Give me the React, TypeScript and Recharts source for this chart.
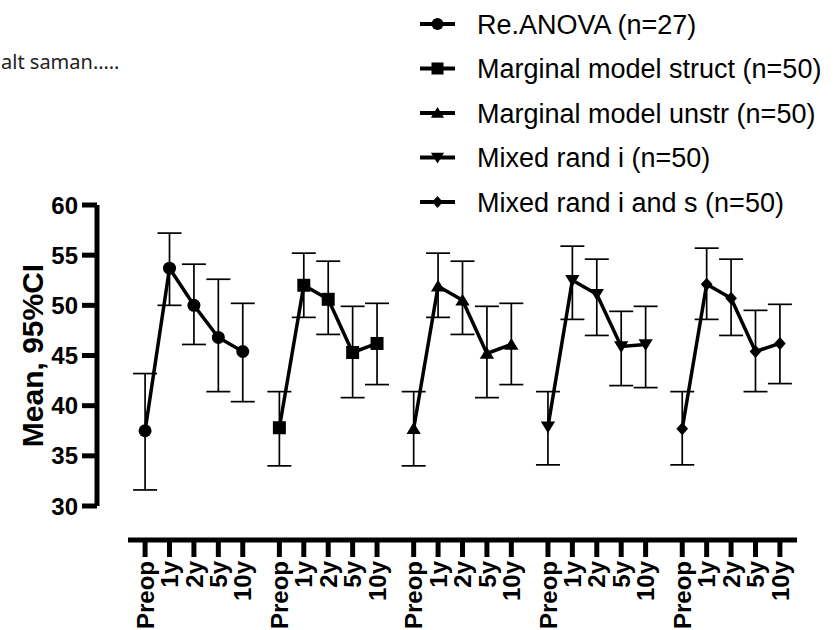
import React from "react";
import { ComposedChart, Line, XAxis, YAxis, ErrorBar, Label } from "recharts";

const FONT = "'Liberation Sans', Arial, sans-serif";

const timepoints = ["Preop", "1y", "2y", "5y", "10y"];
const seriesNames = [
  "Re.ANOVA (n=27)",
  "Marginal model struct (n=50)",
  "Marginal model unstr (n=50)",
  "Mixed rand i (n=50)",
  "Mixed rand i and s (n=50)",
];
const seriesShapes = ["circle", "square", "triangle", "triangleDown", "diamond"];

// means and 95% CI bounds
const anovaMean = [37.5, 53.7, 50.0, 46.8, 45.4];
const anovaLow = [31.6, 50.0, 46.1, 41.4, 40.4];
const anovaHigh = [43.2, 57.2, 54.1, 52.6, 50.2];

const structMean = [37.8, 52.0, 50.6, 45.3, 46.2];
const structLow = [34.0, 48.8, 47.1, 40.8, 42.1];
const structHigh = [41.4, 55.2, 54.4, 49.9, 50.2];

const unstrMean = [37.7, 51.9, 50.5, 45.2, 46.1];
const unstrLow = [34.0, 48.8, 47.1, 40.8, 42.1];
const unstrHigh = [41.4, 55.2, 54.4, 49.9, 50.2];

const randIMean = [37.9, 52.5, 51.1, 45.9, 46.1];
const randILow = [34.1, 48.6, 47.0, 42.0, 41.8];
const randIHigh = [41.4, 55.9, 54.6, 49.4, 49.9];

const randISMean = [37.7, 52.1, 50.7, 45.4, 46.2];
const randISLow = [34.1, 48.6, 47.0, 41.4, 42.2];
const randISHigh = [41.4, 55.7, 54.6, 49.5, 50.1];

const yTicks = [30, 35, 40, 45, 50, 55, 60];

const means = [anovaMean, structMean, unstrMean, randIMean, randISMean];
const lows = [anovaLow, structLow, unstrLow, randILow, randISLow];
const highs = [anovaHigh, structHigh, unstrHigh, randIHigh, randISHigh];

// each model gets its own block of 5 timepoints on a shared numeric axis
const GROUP_STRIDE = 5.5;
const X_DOMAIN: [number, number] = [-0.7, 4 * GROUP_STRIDE + 4.7];

const seriesData = means.map((m, g) =>
  m.map((v, i) => ({
    x: g * GROUP_STRIDE + i,
    y: v,
    err: [v - lows[g][i], highs[g][i] - v],
  }))
);

const xTicks = seriesData.flatMap((d) => d.map((p) => p.x));
const xLabel = (x: number) => timepoints[Math.round(x - Math.floor(x / GROUP_STRIDE) * GROUP_STRIDE)];

function Marker({ shape, cx, cy, s }: { shape: string; cx: number; cy: number; s: number }) {
  const h = s / 2;
  switch (shape) {
    case "circle":
      return <circle cx={cx} cy={cy} r={h} fill="#000" />;
    case "square":
      return <rect x={cx - h} y={cy - h} width={s} height={s} fill="#000" />;
    case "triangle":
      return (
        <polygon
          points={`${cx},${cy - h} ${cx + h * 1.1},${cy + h * 0.8} ${cx - h * 1.1},${cy + h * 0.8}`}
          fill="#000"
        />
      );
    case "triangleDown":
      return (
        <polygon
          points={`${cx},${cy + h} ${cx + h * 1.1},${cy - h * 0.8} ${cx - h * 1.1},${cy - h * 0.8}`}
          fill="#000"
        />
      );
    default:
      return (
        <polygon
          points={`${cx},${cy - h} ${cx + h * 0.9},${cy} ${cx},${cy + h} ${cx - h * 0.9},${cy}`}
          fill="#000"
        />
      );
  }
}

function XTick({ x, y, payload }: any) {
  return (
    <text
      x={x}
      y={y}
      transform={`rotate(-90, ${x}, ${y})`}
      textAnchor="end"
      dy="0.36em"
      fontFamily={FONT}
      fontWeight="bold"
      fontSize={24}
      fill="#000"
    >
      {xLabel(payload.value)}
    </text>
  );
}

function YTitle({ viewBox }: any) {
  const cx = viewBox.x + 5;
  const cy = viewBox.y + viewBox.height / 2;
  return (
    <text
      x={cx}
      y={cy}
      transform={`rotate(-90, ${cx}, ${cy})`}
      textAnchor="middle"
      dy="0.36em"
      fontFamily={FONT}
      fontWeight="bold"
      fontSize={30}
      fill="#000"
    >
      Mean, 95%CI
    </text>
  );
}

function LegendBox() {
  return (
    <svg width={430} height={230} style={{ position: "absolute", left: 405, top: 0 }}>
      {seriesNames.map((name, i) => {
        const y = 24 + i * 44.5;
        return (
          <g key={name}>
            <line x1={15} x2={50} y1={y} y2={y} stroke="#000" strokeWidth={4} />
            <Marker shape={seriesShapes[i]} cx={32.5} cy={y} s={12} />
            <text x={72} y={y} dy="0.36em" fontFamily={FONT} fontSize={27} fill="#000">
              {name}
            </text>
          </g>
        );
      })}
    </svg>
  );
}

export default function App() {
  return (
    <div style={{ position: "absolute", left: 0, top: 0, width: 835, height: 630, background: "#fff" }}>
      <div
        style={{
          position: "absolute",
          left: 1,
          top: 48,
          fontFamily: "'Noto Sans', sans-serif",
          fontSize: 20,
          color: "#222",
        }}
      >
        alt saman…..
      </div>
      <LegendBox />
      <ComposedChart
        width={835}
        height={630}
        margin={{ top: 205, right: 38, left: 27, bottom: 0 }}
        style={{ position: "absolute", left: 0, top: 0 }}
      >
        <XAxis
          xAxisId="main"
          type="number"
          dataKey="x"
          domain={X_DOMAIN}
          ticks={xTicks}
          interval={0}
          height={90}
          tick={<XTick />}
          tickSize={17}
          tickMargin={4}
          tickLine={{ stroke: "#000", strokeWidth: 5 }}
          axisLine={{ stroke: "#000", strokeWidth: 5 }}
          allowDataOverflow
        />
        <YAxis
          yAxisId="main"
          type="number"
          domain={[30, 60]}
          ticks={yTicks}
          interval={0}
          width={70}
          tickSize={15}
          tickMargin={4}
          tick={{ fill: "#000", fontSize: 24, fontWeight: "bold", fontFamily: FONT }}
          tickLine={{ stroke: "#000", strokeWidth: 5 }}
          axisLine={{ stroke: "#000", strokeWidth: 5 }}
          allowDataOverflow
        >
          <Label content={<YTitle />} />
        </YAxis>
        {/* spacer axes sit between plot and visible axes (offset axes) */}
        <XAxis
          xAxisId="aSpacer"
          type="number"
          domain={X_DOMAIN}
          height={34}
          tick={false}
          tickLine={false}
          axisLine={false}
        />
        <YAxis
          yAxisId="aSpacer"
          type="number"
          domain={[30, 60]}
          width={31}
          tick={false}
          tickLine={false}
          axisLine={false}
        />
        {seriesData.map((d, g) => (
          <Line
            key={seriesNames[g]}
            xAxisId="main"
            yAxisId="main"
            data={d}
            dataKey="y"
            type="linear"
            stroke="#000"
            strokeWidth={3.5}
            isAnimationActive={false}
            activeDot={false}
            dot={(p: any) => (
              <Marker key={`${g}-${p.index}`} shape={seriesShapes[g]} cx={p.cx} cy={p.cy} s={13} />
            )}
          >
            <ErrorBar dataKey="err" direction="y" width={12} stroke="#000" strokeWidth={1.7} />
          </Line>
        ))}
      </ComposedChart>
    </div>
  );
}
